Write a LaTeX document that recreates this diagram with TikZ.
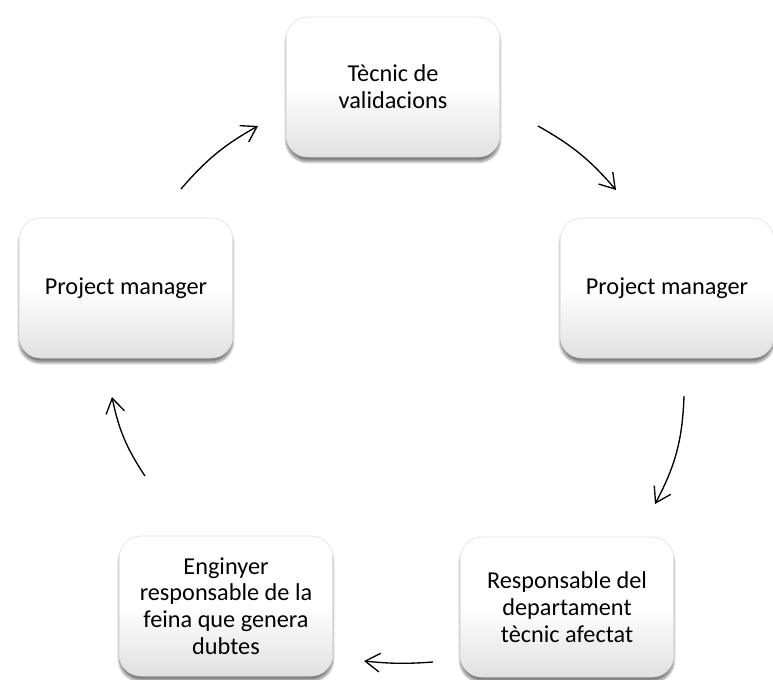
\documentclass[tikz,border=0pt]{standalone}
\usepackage{fontspec}
\setmainfont{Carlito}
\usetikzlibrary{arrows.meta,shadows.blur}

\begin{document}
\begin{tikzpicture}[
  x=0.75pt,y=0.75pt,
  role/.style={rounded corners=16pt,draw=black!13,line width=0.4pt,top color=white,bottom color=black!12,middle color=white,minimum width=160pt,minimum height=105pt,align=center,font=\fontsize{18.2}{20}\selectfont,blur shadow={shadow xshift=0pt,shadow yshift=-3.5pt,shadow blur steps=8,shadow opacity=50}},
  arr/.style={-{Straight Barb[length=11pt,width=14pt]},line width=1pt,draw=black}
]
\useasboundingbox (0,0) rectangle (773,-680);
\node[role] (tecnic) at (393,-87) {Tècnic de\\validacions};
\node[role] (pmright) at (667,-288) {Project manager};
\node[role] (resp) at (567,-607) {Responsable del\\departament\\tècnic afectat};
\node[role] (enginyer) at (226,-606) {Enginyer\\responsable de la\\feina que genera\\dubtes};
\node[role] (pmleft) at (126,-288) {Project manager};
% free ends of the curved arrows
\coordinate (tecnicout) at (538,-126);
\coordinate (pmrightin) at (616,-190);
\coordinate (pmrightout) at (684,-396);
\coordinate (respin) at (655,-504);
\coordinate (respout) at (433,-662);
\coordinate (enginyerin) at (364,-661);
\coordinate (enginyerout) at (145,-476);
\coordinate (pmleftin) at (112,-397);
\coordinate (pmleftout) at (181,-189);
\coordinate (tecnicin) at (258,-126);
\draw[arr] (tecnicout) to[bend left=10] (pmrightin);
\draw[arr] (pmrightout) to[bend left=13] (respin);
\draw[arr] (respout) to[bend left=5] (enginyerin);
\draw[arr] (enginyerout) to[bend left=11] (pmleftin);
\draw[arr] (pmleftout) to[bend left=10] (tecnicin);
\end{tikzpicture}
\end{document}
